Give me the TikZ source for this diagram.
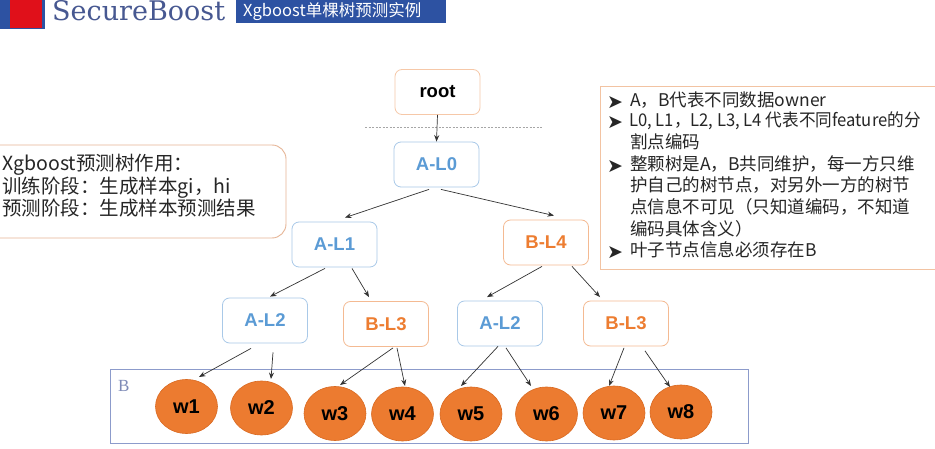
\documentclass[tikz,border=0pt]{standalone}
\usepackage{fontspec}
\setmainfont{Liberation Sans}
\newfontfamily\cjk{Noto Sans CJK SC}
\newfontfamily\dv{DejaVu Sans}
\newfontfamily\hdserif{DejaVu Serif}
\newfontfamily\bserif{Liberation Serif}
\usetikzlibrary{arrows.meta,calc,shapes.geometric}
\definecolor{hdblue}{HTML}{2D52A2}
\definecolor{hdred}{HTML}{E0101A}
\definecolor{hdtext}{HTML}{475891}
\definecolor{ablue}{HTML}{5B9BD5}
\definecolor{aborder}{HTML}{A9C9E8}
\definecolor{borange}{HTML}{ED7D31}
\definecolor{bborder}{HTML}{F4BA92}
\definecolor{leafc}{HTML}{EC7B30}
\definecolor{leafd}{HTML}{D96A22}
\definecolor{boxb}{HTML}{8C9BCB}
\definecolor{noteb}{HTML}{F2C3A2}
\definecolor{leftb}{HTML}{E6B596}
\definecolor{txt}{HTML}{262626}
\tikzset{
  tbox/.style={draw, rounded corners=7pt, minimum width=85pt, minimum height=45pt,
    line width=0.8pt, inner sep=0pt, font=\fontsize{18.5}{20}\selectfont\bfseries},
  anode/.style={tbox, draw=aborder, text=ablue},
  bnode/.style={tbox, draw=bborder, text=borange},
  rootnode/.style={tbox, draw=bborder!80, text=black},
  leaf/.style={ellipse, fill=leafc, draw=leafd, line width=0.6pt, minimum width=62pt,
    minimum height=54pt, inner sep=0pt, font=\fontsize{20}{22}\selectfont\bfseries, text=black},
  arr/.style={-{Stealth[length=6.5pt,width=5pt]}, draw=black!80, line width=0.7pt},
  ltxt/.style={anchor=west, inner sep=0pt, text=txt, text height=0.88em, text depth=0.12em,
    font=\cjk\fontsize{19.5}{22}\selectfont},
  rtxt/.style={anchor=west, inner sep=0pt, text=txt, text height=0.88em, text depth=0.12em,
    font=\cjk\fontsize{17.5}{20}\selectfont},
  bul/.style={anchor=west, inner sep=0pt, text=txt, font=\dv\fontsize{19}{20}\selectfont},
}
\begin{document}
\begin{tikzpicture}[x=1pt,y=-1pt]
\useasboundingbox (0,0) rectangle (935,449);
\clip (0,0) rectangle (935,449);
\fill[white] (0,0) rectangle (935,449);
% header
\fill[hdblue] (0,0) rectangle (45,29);
\fill[hdred] (10,0) rectangle (42,28);
\node[anchor=base west, inner sep=0pt, text=hdtext, font=\hdserif\fontsize{27}{30}\selectfont] (title) at (52,20.5) {SecureBoost};
\fill[hdblue] (236,0) rectangle (446,23);
\node[anchor=west, inner sep=0pt, text=white, font=\cjk\fontsize{16.5}{18}\selectfont] (sub) at (243,11.5) {Xgboost单棵树预测实例};
% left note
\draw[leftb, line width=0.9pt, rounded corners=14pt] (-15,145) rectangle (286,238);
\node[ltxt] (l1) at (2,167) {Xgboost预测树作用：};
\node[ltxt] (l2) at (2,190) {训练阶段：生成样本gi，hi};
\node[ltxt] (l3) at (2,212) {预测阶段：生成样本预测结果};
% right note
\draw[noteb, line width=1pt] (600,87) rectangle (945,270);
\node[bul] (b1) at (607,103) {➤};
\node[bul] (b2) at (607,123) {➤};
\node[bul] (b4) at (607,167) {➤};
\node[bul] (b8) at (607,253) {➤};
\node[rtxt] (r1) at (630,103) {A，B代表不同数据owner};
\node[rtxt] (r2) at (629,123) {\scalebox{0.95}[1]{L0, L1，L2, L3, L4 代表不同feature的分}};
\node[rtxt] (r3) at (630,145) {割点编码};
\node[rtxt] (r4) at (630,167) {整颗树是A，B共同维护，每一方只维};
\node[rtxt] (r5) at (630,188) {护自己的树节点，对另外一方的树节};
\node[rtxt] (r6) at (630,210) {点信息不可见（只知道编码，不知道};
\node[rtxt] (r7) at (630,232) {编码具体含义）};
\node[rtxt] (r8) at (630,253) {叶子节点信息必须存在B};
% dashed separator
\draw[black!35, line width=0.7pt, dash pattern=on 2pt off 1.5pt] (365,127) -- (542,127);
% B container
\draw[boxb, line width=0.9pt] (110.5,369) rectangle (748,443);
\node[anchor=west, inner sep=0pt, text=boxb!90!black, font=\bserif\fontsize{17}{18}\selectfont] (blabel) at (118,386) {B};
% tree nodes
\node[rootnode] (root) at (437.5,92) {root};
\node[anode] (al0) at (436.5,164.5) {A-L0};
\node[anode] (al1) at (334.5,244.5) {A-L1};
\node[bnode] (bl4) at (546,242.5) {B-L4};
\node[anode] (al2a) at (265,320.5) {A-L2};
\node[bnode] (bl3a) at (386,324) {B-L3};
\node[anode] (al2b) at (500,323.5) {A-L2};
\node[bnode] (bl3b) at (626,323.5) {B-L3};
% leaves
\node[leaf] (w1) at (186.5,406.5) {w1};
\node[leaf] (w2) at (261.5,408) {w2};
\node[leaf] (w3) at (335,413.5) {w3};
\node[leaf] (w4) at (402.5,414) {w4};
\node[leaf] (w5) at (471,414) {w5};
\node[leaf] (w6) at (546.5,414) {w6};
\node[leaf] (w7) at (614,413) {w7};
\node[leaf] (w8) at (681,412) {w8};
% connectors
\draw[arr] (root.south) -- (al0.north);
\draw[arr] ($(al0.south)+(-7.5,2)$) -- ($(al1.north)+(10.5,-4)$);
\draw[arr] ($(al0.south)+(4.5,2)$) -- ($(bl4.north)+(8,-4)$);
\draw[arr] ($(al1.south)+(-9.5,1)$) -- ($(al2a.north)+(5,-1)$);
\draw[arr] ($(al1.south)+(17.5,1)$) -- ($(bl3a.north)+(-17,-4)$);
\draw[arr] ($(bl4.south)+(-4,1)$) -- ($(al2b.north)+(-13,-3.5)$);
\draw[arr] ($(bl4.south)+(26,1)$) -- ($(bl3b.north)+(-26,-3.5)$);
\draw[arr] ($(al2a.south)+(-14,5)$) -- ($(w1.center)+(12.5,-29.5)$);
\draw[arr] ($(al2a.south)+(8,9)$) -- ($(w2.center)+(9.5,-29)$);
\draw[arr] ($(bl3a.south)+(7,1)$) -- ($(w3.center)+(5,-28.5)$);
\draw[arr] ($(bl3a.south)+(11,1)$) -- ($(w4.center)+(2.5,-28)$);
\draw[arr] ($(al2b.south)+(-2,0)$) -- ($(w5.center)+(-10,-28)$);
\draw[arr] ($(al2b.south)+(6,1.5)$) -- ($(w6.center)+(-15.5,-28)$);
\draw[arr] ($(bl3b.south)+(-2,1.5)$) -- ($(w7.center)+(-5,-27)$);
\draw[arr] ($(bl3b.south)+(19,4.5)$) -- ($(w8.center)+(-11,-25)$);
\end{tikzpicture}
\end{document}
